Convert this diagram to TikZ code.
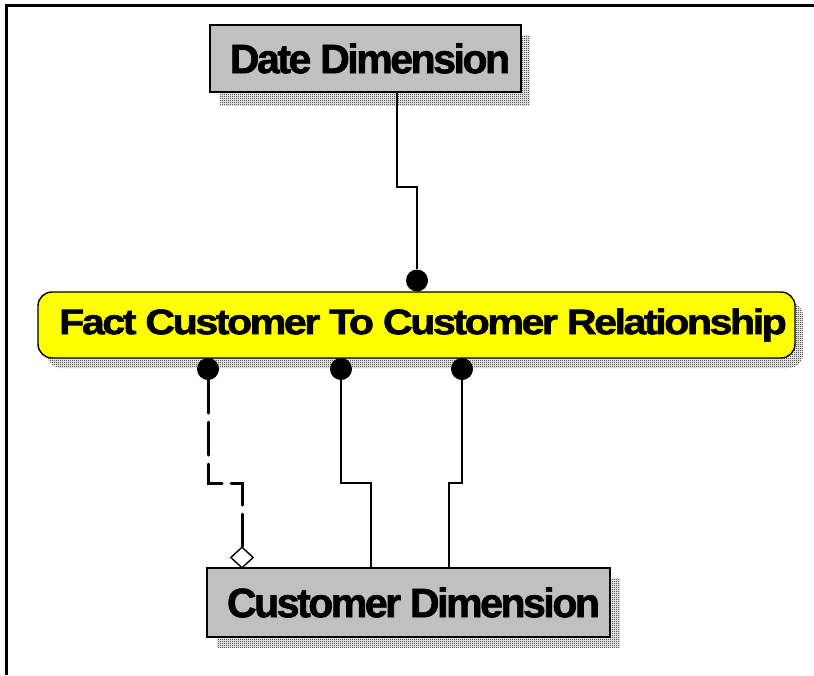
\documentclass[tikz,border=0pt]{standalone}
\usepackage{fontspec}
\newfontfamily\lblfont[FakeBold=1.6, LetterSpace=-6]{Liberation Sans}
\usetikzlibrary{shapes.geometric,patterns,calc}
\pgfdeclarepatternformonly{shadowdots}{\pgfpointorigin}{\pgfpoint{2pt}{2pt}}{\pgfpoint{2pt}{2pt}}{%
  \pgfpathrectangle{\pgfpointorigin}{\pgfpoint{1pt}{1pt}}%
  \pgfpathrectangle{\pgfpoint{1pt}{1pt}}{\pgfpoint{1pt}{1pt}}%
  \pgfusepath{fill}}
\definecolor{boxgray}{RGB}{192,192,192}
\definecolor{factyellow}{RGB}{255,255,0}
\tikzset{
  dimbox/.style={draw=black, line width=1.4pt, fill=boxgray, rectangle, inner sep=0pt,
    font=\lblfont\bfseries\fontsize{41}{41}\selectfont},
  factbox/.style={draw=black, line width=1.4pt, fill=factyellow, rectangle, rounded corners=14pt, inner sep=0pt,
    font=\lblfont\bfseries\fontsize{35.5}{35.5}\selectfont},
  shadowfill/.style={pattern=shadowdots, pattern color=black},
  enddot/.style={circle, fill=black, draw=none, minimum size=22pt, inner sep=0pt},
  conn/.style={draw=black, line width=1.4pt},
  dashconn/.style={draw=black, line width=3pt, line cap=round, dash pattern=on 33pt off 9pt},
  dia/.style={diamond, draw=black, fill=white, line width=1.4pt, minimum width=23pt, minimum height=21pt, inner sep=0pt},
  frameline/.style={draw=black, line width=3pt}
}
\begin{document}
\begin{tikzpicture}[x=1pt,y=-1pt]
\useasboundingbox (0,0) rectangle (814,675);
\fill[white] (0,0) rectangle (814,675);
% frame
\draw[frameline] (6.5,675) -- (6.5,5.5) -- (814,5.5);
% shadows
\fill[shadowfill] (220,35) rectangle (530,105);
\fill[shadowfill, rounded corners=14pt] (47,302) rectangle (803,368);
\fill[shadowfill] (217,578) rectangle (620,647);
% nodes
\node[dimbox, minimum width=311pt, minimum height=67pt] (date) at (365.5,58.5) {\hspace*{9pt}Date Dimension};
\node[factbox, minimum width=757pt, minimum height=66pt] (fact) at (416.5,325) {\hspace*{13pt}\scalebox{1.16}[1]{Fact Customer To Customer Relationship}};
\node[dimbox, minimum width=403pt, minimum height=69pt] (cust) at (408.5,602.5) {\hspace*{10pt}Customer Dimension};
% end dots
\node[enddot] (dt) at (417,280.5) {};
\node[enddot] (b1) at (208,369) {};
\node[enddot] (b2) at (341,369) {};
\node[enddot] (b3) at (462,369) {};
\node[dia] (dd) at (242,557.5) {};
% bend coordinates
\coordinate (c0) at (397,187);
\coordinate (k1) at (242,483);
\coordinate (k2) at (371,483);
\coordinate (k3) at (449,483);
% connectors
\draw[conn] (date.south -| c0) -- (c0) -| (dt);
\draw[dashconn] (b1) |- (k1) -- (dd);
\draw[conn] (b2) |- (k2) -- (k2 |- cust.north);
\draw[conn] (b3) |- (k3) -- (k3 |- cust.north);
\end{tikzpicture}
\end{document}
